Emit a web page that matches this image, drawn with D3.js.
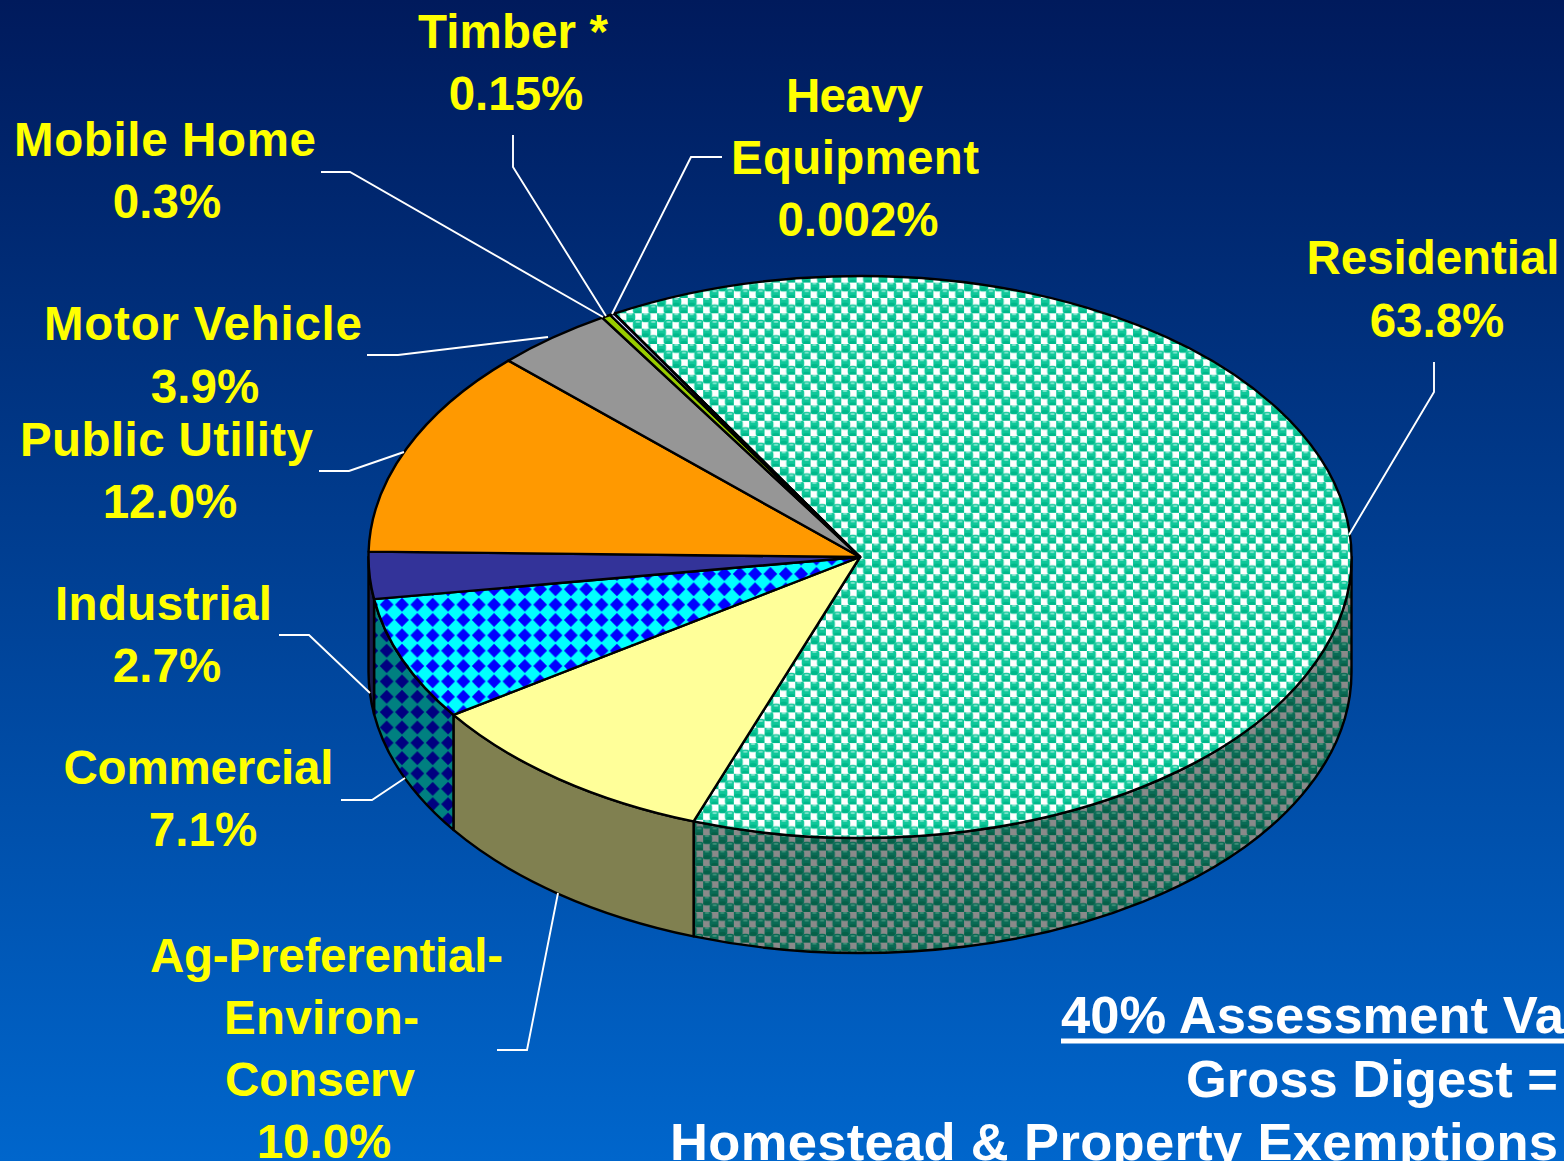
<!DOCTYPE html>
<html><head><meta charset="utf-8">
<style>html,body{margin:0;padding:0;overflow:hidden;background:#0060c4}svg{display:block}text{font-family:"Liberation Sans",Arial,sans-serif;font-weight:bold}</style>
<script src="https://cdn.jsdelivr.net/npm/d3@7"></script>
</head><body><div id="chart"></div>
<script>
// ---- data ----
const categories = ["Residential","Ag-Preferential-Environ-Conserv","Commercial","Industrial","Public Utility","Motor Vehicle","Mobile Home","Timber *","Heavy Equipment"];
const shares = [63.8,10.0,7.1,2.7,12.0,3.9,0.3,0.15,0.002];
const shareLabels = ["63.8%","10.0%","7.1%","2.7%","12.0%","3.9%","0.3%","0.15%","0.002%"];
const noteLines = ["40% Assessment Value","Gross Digest =","Homestead & Property Exemptions"];

// ---- layout and styles ----
const W=1564,H=1161, cx=860, cy=557, rx=491.5, ry=281, depth=115;
const startDeg=-30.0;
const topFill=["url(#spheres)","#FFFF99","url(#diamonds)","#333399","#FF9900","#969696","#99CC00","#CCCCFF","#FFFFFF"];
const sideFill=["url(#spheresDark)","#808050","url(#diamondsDark)","#1A1A4D","#804D00","#4B4B4B","#4D6600","#666680","#808080"];
const labelLayout=[
 {lines:[["Residential",1433,274,253],["63.8%",1437,337]],leader:[[1434,362],[1434,392],[1349,535]]},
 {lines:[["Ag-Preferential-",326.5,972,353],["Environ-",321.5,1034,195],["Conserv",320,1096],["10.0%",324,1158]],leader:[[497,1050],[527,1050],[558,893]]},
 {lines:[["Commercial",198.5,784,270],["7.1%",203,846]],leader:[[341,800],[372,800],[405,778]]},
 {lines:[["Industrial",163.5,620,217],["2.7%",167,682]],leader:[[279,635],[309,635],[370,693]]},
 {lines:[["Public Utility",166.5,456,293],["12.0%",170,518]],leader:[[319,471],[349,471],[404,452]]},
 {lines:[["Motor Vehicle",203,340,318],["3.9%",205,403]],leader:[[367,355],[398,355],[548,337]]},
 {lines:[["Mobile Home",165,156,302],["0.3%",167,218]],leader:[[321,172],[350,172],[603,317]]},
 {lines:[["Timber *",513,48,190],["0.15%",516,110]],leader:[[513,135],[513,167],[606,316]]},
 {lines:[["Heavy",854.5,112,137],["Equipment",855,174,248],["0.002%",858,236]],leader:[[722,157],[691,157],[612,314]]}
];

const svg=d3.select("#chart").append("svg").attr("width",W).attr("height",H).attr("viewBox",[0,0,W,H]);
const defs=svg.append("defs");
const grad=defs.append("linearGradient").attr("id","bg").attr("x1",0).attr("y1",0).attr("x2",0).attr("y2",1);
grad.append("stop").attr("offset",0).attr("stop-color","#001A5C");
grad.append("stop").attr("offset",1).attr("stop-color","#0066CC");

const T=15.35;
function spherePattern(id,bg,base,shade,hi){
  const p=defs.append("pattern").attr("id",id).attr("patternUnits","userSpaceOnUse").attr("width",T).attr("height",T).attr("x",1010.15).attr("y",512.85);
  p.append("rect").attr("width",T).attr("height",T).attr("fill",bg);
  [[T/4,T/4],[3*T/4,3*T/4]].forEach(([a,b])=>{
    p.append("circle").attr("cx",a).attr("cy",b).attr("r",5.6).attr("fill",base);
    p.append("ellipse").attr("cx",a).attr("cy",b+2.6).attr("rx",3.6).attr("ry",2).attr("fill",shade);
    p.append("ellipse").attr("cx",a).attr("cy",b-2.8).attr("rx",2.5).attr("ry",1).attr("fill",hi);
  });
  [[3*T/4,T/4],[T/4,3*T/4]].forEach(([a,b])=>{
    p.append("rect").attr("x",a-2.5).attr("y",b-2.5).attr("width",5).attr("height",5).attr("fill",bg);
  });
}
function diamondPattern(id,bg,fg){
  const p=defs.append("pattern").attr("id",id).attr("patternUnits","userSpaceOnUse").attr("width",T).attr("height",T).attr("x",432.7-T/2).attr("y",620-T/2);
  p.append("rect").attr("width",T).attr("height",T).attr("fill",bg);
  const c=T/2,r=6.9;
  p.append("path").attr("d",`M${c-r},${c}L${c},${c-r}L${c+r},${c}L${c},${c+r}Z`).attr("fill",fg);
}
spherePattern("spheres","#FFFFFF","#10C89A","#00B88A","#80E6CE");
spherePattern("spheresDark","#8A8A8A","#0A6B55","#066048","#3F8F78");
diamondPattern("diamonds","#00FFFF","#0000FF");
diamondPattern("diamondsDark","#008080","#000080");

svg.append("rect").attr("width",W).attr("height",H).attr("fill","url(#bg)");

// ---- slices ----
const start=startDeg*Math.PI/180;
const arcs=d3.pie().value(d=>d).sort(null).startAngle(start).endAngle(start+2*Math.PI)(shares);
const x=d3.scaleLinear().domain([-1,1]).range([cx-rx,cx+rx]);
const y=d3.scaleLinear().domain([-1,1]).range([cy-ry,cy+ry]);
const px=a=>x(Math.sin(a)), py=a=>y(-Math.cos(a));

function wedge(d){
  const large=(d.endAngle-d.startAngle)>Math.PI?1:0;
  return `M${cx},${cy}L${px(d.startAngle)},${py(d.startAngle)}A${rx},${ry} 0 ${large} 1 ${px(d.endAngle)},${py(d.endAngle)}Z`;
}
function side(d){
  const a0=Math.max(d.startAngle,Math.PI/2), a1=Math.min(d.endAngle,3*Math.PI/2);
  if(a1<=a0) return null;
  const large=(a1-a0)>Math.PI?1:0;
  return `M${px(a0)},${py(a0)}A${rx},${ry} 0 ${large} 1 ${px(a1)},${py(a1)}L${px(a1)},${py(a1)+depth}A${rx},${ry} 0 ${large} 0 ${px(a0)},${py(a0)+depth}Z`;
}
svg.append("g").selectAll("path").data(arcs.filter(side)).join("path")
  .attr("d",side).attr("fill",d=>sideFill[d.index]).attr("stroke","#000").attr("stroke-width",2.4).attr("stroke-linejoin","round");
svg.append("g").selectAll("path").data(arcs).join("path")
  .attr("d",wedge).attr("fill",d=>topFill[d.index]).attr("stroke","#000").attr("stroke-width",2.4).attr("stroke-linejoin","round");

// ---- leaders ----
const line=d3.line();
svg.append("g").selectAll("path").data(labelLayout).join("path")
  .attr("d",d=>line(d.leader)).attr("fill","none").attr("stroke","#fff").attr("stroke-width",1.9);

// ---- labels ----
svg.append("g").attr("fill","#FFFF00").attr("font-size",47.5).attr("text-anchor","middle")
  .selectAll("text").data(labelLayout.flatMap(d=>d.lines)).join("text")
  .attr("x",d=>d[1]).attr("y",d=>d[2]).each(function(d){ if(d[3]) d3.select(this).attr("textLength",d[3]); }).text(d=>d[0]);

// ---- note ----
const note=svg.append("g").attr("fill","#fff").attr("font-size",52.5);
[[1061,1033],[1186,1097,372],[670,1160,888]].forEach((p,i)=>{
  const t=note.append("text").attr("x",p[0]).attr("y",p[1]).text(noteLines[i]);
  if(p[2]) t.attr("textLength",p[2]);
});
note.append("rect").attr("x",1061).attr("y",1038.5).attr("width",W-1061).attr("height",5);
</script></body></html>
